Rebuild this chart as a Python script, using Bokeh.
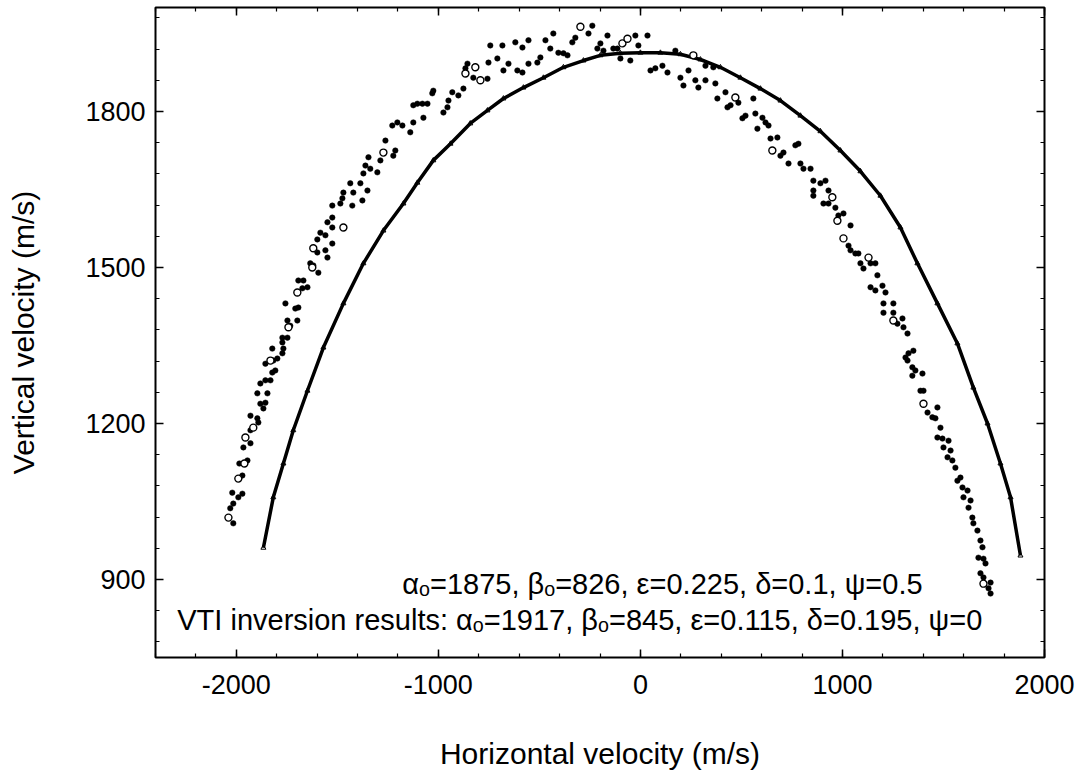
from bokeh.plotting import figure
from bokeh.models import Range1d, FixedTicker, LinearAxis, Label
from bokeh.embed import file_html
from bokeh.resources import INLINE

FONT = "Liberation Sans"

# Fitted VTI curve (dense open triangles in the original)
curve_x = [-1866, -1817, -1767, -1718, -1648, -1569, -1470, -1371, -1272, -1173,
           -1104, -1025, -940, -842, -757, -678, -579, -480, -381, -282,
           -198, -99, 0, 99, 198, 297, 396, 495, 594, 693,
           792, 891, 990, 1089, 1188, 1287, 1371, 1470, 1569, 1648,
           1718, 1782, 1832, 1881]
curve_y = [961, 1058, 1123, 1187, 1263, 1346, 1431, 1508, 1571, 1623,
           1663, 1706, 1738, 1777, 1802, 1825, 1846, 1865, 1885, 1898,
           1908, 1912, 1913, 1913, 1910, 1900, 1885, 1865, 1844, 1821,
           1792, 1762, 1725, 1685, 1638, 1577, 1508, 1431, 1354, 1269,
           1200, 1123, 1058, 946]

# Measured group velocities (filled dots)
dots_x = [-2015, -2030, -2015, -2020, -1990, -1970, -1970, -1985, -1945, -1965,
          -1930, -1930, -1891, -1896, -1930, -1881, -1856, -1866, -1896, -1846,
          -1881, -1856, -1831, -1822, -1807, -1856, -1817, -1797, -1772, -1822,
          -1767, -1772, -1772, -1747, -1733, -1747, -1698, -1757, -1708, -1693,
          -1673, -1648, -1693, -1668, -1594, -1634, -1619, -1549, -1599, -1559,
          -1525, -1559, -1584, -1599, -1549, -1525, -1525, -1485, -1525, -1475,
          -1470, -1426, -1421, -1436, -1386, -1376, -1351, -1371, -1337, -1346,
          -1361, -1302, -1287, -1262, -1223, -1213, -1228, -1203, -1178, -1139,
          -1124, -1124, -1104, -1079, -1074, -1054, -1030, -1025, -975, -955,
          -950, -931, -901, -876, -866, -856, -827, -757, -752, -743,
          -708, -683, -678, -653, -619, -609, -584, -584, -554, -554,
          -510, -495, -470, -446, -431, -406, -381, -361, -337, -322,
          -257, -238, -213, -198, -163, -183, -134, -114, -99, -50,
          -25, -10, 35, 50, 74, 109, 134, 173, 198, 213,
          238, 272, 287, 322, 322, 361, 371, 381, 421, 431,
          446, 485, 505, 520, 559, 569, 579, 604, 619, 634,
          644, 678, 693, 708, 733, 767, 782, 792, 807, 842,
          856, 891, 856, 856, 916, 931, 931, 906, 965, 980,
          1005, 1040, 1030, 1040, 1064, 1079, 1089, 1104, 1139, 1163,
          1173, 1139, 1163, 1198, 1213, 1203, 1252, 1203, 1252, 1272,
          1297, 1302, 1322, 1312, 1322, 1327, 1351, 1346, 1361, 1346,
          1396, 1386, 1401, 1421, 1445, 1470, 1460, 1485, 1470, 1495,
          1500, 1525, 1535, 1520, 1544, 1559, 1569, 1584, 1594, 1619,
          1599, 1634, 1624, 1643, 1648, 1668, 1683, 1693, 1673, 1698,
          1708, 1683, 1698, 1733, 1723, 1733]
dots_y = [1008, 1037, 1046, 1067, 1058, 1065, 1100, 1123, 1129, 1154,
          1162, 1187, 1202, 1210, 1215, 1238, 1240, 1229, 1258, 1258,
          1277, 1283, 1283, 1298, 1302, 1315, 1321, 1325, 1335, 1344,
          1344, 1356, 1365, 1365, 1388, 1398, 1398, 1431, 1421, 1423,
          1460, 1462, 1475, 1475, 1490, 1508, 1504, 1519, 1529, 1533,
          1546, 1562, 1567, 1554, 1587, 1596, 1577, 1623, 1619, 1633,
          1644, 1619, 1644, 1662, 1662, 1629, 1648, 1681, 1690, 1712,
          1696, 1683, 1706, 1744, 1715, 1725, 1773, 1779, 1773, 1760,
          1779, 1812, 1815, 1815, 1788, 1815, 1835, 1840, 1798, 1808,
          1821, 1837, 1831, 1844, 1883, 1892, 1865, 1863, 1894, 1927,
          1902, 1927, 1879, 1892, 1933, 1879, 1923, 1875, 1937, 1892,
          1894, 1904, 1937, 1921, 1950, 1913, 1912, 1908, 1933, 1942,
          1950, 1965, 1921, 1931, 1946, 1917, 1921, 1921, 1902, 1898,
          1946, 1927, 1946, 1879, 1883, 1888, 1875, 1917, 1865, 1850,
          1879, 1860, 1846, 1860, 1888, 1885, 1854, 1825, 1837, 1808,
          1812, 1817, 1787, 1792, 1825, 1796, 1767, 1788, 1779, 1773,
          1748, 1750, 1715, 1721, 1700, 1735, 1738, 1700, 1690, 1690,
          1667, 1662, 1648, 1638, 1667, 1648, 1623, 1623, 1615, 1600,
          1604, 1581, 1542, 1533, 1527, 1527, 1508, 1498, 1508, 1508,
          1485, 1462, 1456, 1465, 1452, 1431, 1431, 1413, 1413, 1392,
          1402, 1385, 1373, 1327, 1321, 1335, 1340, 1308, 1302, 1292,
          1296, 1263, 1263, 1221, 1212, 1231, 1210, 1192, 1173, 1171,
          1154, 1167, 1148, 1135, 1129, 1115, 1090, 1096, 1077, 1071,
          1058, 1052, 1038, 1019, 1008, 994, 975, 962, 942, 940,
          931, 912, 904, 894, 883, 873]

# Measured group velocities (open circles)
open_x = [-2039, -1990, -1960, -1955, -1916, -1831, -1742, -1698, -1624, -1619,
          -1470, -1272, -866, -817, -792, -297, -89, -64, 262, 470,
          653, 950, 975, 1005, 1129, 1252, 1401, 1698]
open_y = [1019, 1094, 1123, 1173, 1192, 1321, 1385, 1452, 1500, 1537,
          1577, 1721, 1873, 1885, 1860, 1963, 1931, 1940, 1908, 1827,
          1725, 1635, 1590, 1556, 1519, 1398, 1238, 892]

x_major = [-2000, -1000, 0, 1000, 2000]
x_labels = ["-2000", "-1000", "0", "1000", "2000"]
x_minor = list(range(-2400, 2001, 200))
y_major = [900, 1200, 1500, 1800]
y_minor = list(range(780, 2000, 60))

line1 = "\u03b1\u2092=1875, \u03b2\u2092=826, \u03b5=0.225, \u03b4=0.1, \u03c8=0.5"
line2 = ("VTI inversion results: \u03b1\u2092=1917, \u03b2\u2092=845, "
         "\u03b5=0.115, \u03b4=0.195, \u03c8=0")

p = figure(width=1086, height=782, output_backend="svg", toolbar_location=None,
           x_range=Range1d(-2400, 2000), y_range=Range1d(750, 2000),
           min_border_left=155, min_border_right=42, min_border_top=7,
           min_border_bottom=125)
p.background_fill_color = "white"
p.border_fill_color = "white"
p.outline_line_color = "black"
p.outline_line_width = 2
p.xgrid.visible = False
p.ygrid.visible = False

xt = FixedTicker(ticks=x_major, minor_ticks=x_minor)
yt = FixedTicker(ticks=y_major, minor_ticks=y_minor)


def style_axis(ax, show_labels):
    ax.axis_line_color = None
    ax.major_tick_in = 8
    ax.major_tick_out = 0
    ax.minor_tick_in = 4
    ax.minor_tick_out = 0
    ax.major_tick_line_color = "black"
    ax.minor_tick_line_color = "black"
    ax.major_tick_line_width = 1.5
    ax.minor_tick_line_width = 1.2
    if show_labels:
        ax.major_label_text_font = FONT
        ax.major_label_text_font_size = "27px"
        ax.major_label_text_color = "black"
        ax.axis_label_text_font = FONT
        ax.axis_label_text_font_size = "30px"
        ax.axis_label_text_font_style = "normal"
        ax.axis_label_text_color = "black"
    else:
        ax.major_label_text_font_size = "0px"
        ax.major_label_standoff = 0


xa = p.xaxis[0]
xa.ticker = xt
xa.axis_label = "Horizontal velocity (m/s)"
style_axis(xa, True)
xa.major_label_overrides = dict(zip(x_major, x_labels))
xa.major_label_standoff = 17
xa.axis_label_standoff = 40

ya = p.yaxis[0]
ya.ticker = yt
ya.axis_label = "Vertical velocity (m/s)"
style_axis(ya, True)
ya.major_label_standoff = 10
ya.axis_label_standoff = 42
ya.major_label_orientation = "horizontal"

top = LinearAxis(ticker=xt)
style_axis(top, False)
p.add_layout(top, "above")
right = LinearAxis(ticker=yt)
style_axis(right, False)
p.add_layout(right, "right")

p.line(curve_x, curve_y, line_color="black", line_width=3.5)
p.scatter(curve_x, curve_y, marker="triangle", size=5, line_color="black",
          fill_color=None, line_width=1)
p.scatter(dots_x, dots_y, marker="circle", size=5.5, line_color="black",
          fill_color="black", line_width=0.5)
p.scatter(open_x, open_y, marker="circle", size=7, line_color="black",
          fill_color="white", line_width=1.4)

p.add_layout(Label(x=109, y=892, text=line1, text_align="center",
                   text_baseline="alphabetic", text_font=FONT,
                   text_font_size="29px", text_color="black"))
p.add_layout(Label(x=-300, y=823, text=line2, text_align="center",
                   text_baseline="alphabetic", text_font=FONT,
                   text_font_size="29px", text_color="black"))

open("out.html", "w").write(file_html(p, INLINE))
